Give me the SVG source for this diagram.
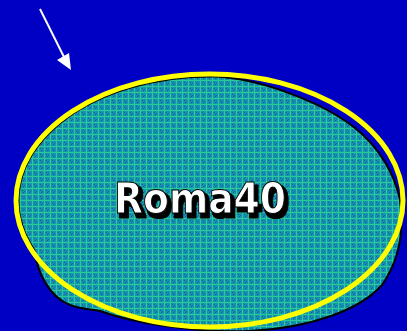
<svg xmlns="http://www.w3.org/2000/svg" width="407" height="331" viewBox="0 0 407 331">
<defs>
<pattern id="plaid" width="6" height="6" patternUnits="userSpaceOnUse">
<rect width="6" height="6" fill="#1396A8"/>
<rect x="0" y="2" width="6" height="1" fill="#2BC89C"/>
<rect x="2" y="0" width="1" height="6" fill="#2BC89C"/>
<rect x="4" y="4" width="1" height="1" fill="#1E4EC0"/>
<rect x="5" y="0" width="1" height="1" fill="#1E4EC0"/>
<rect x="0" y="5" width="1" height="1" fill="#2060C0"/>
</pattern>
<filter id="shadow" x="-10%" y="-30%" width="130%" height="170%">
<feMorphology in="SourceAlpha" operator="dilate" radius="1" result="fat"/>
<feOffset in="fat" dx="3" dy="4" result="off"/>
<feFlood flood-color="#000000"/>
<feComposite in2="off" operator="in" result="sh"/>
<feMerge><feMergeNode in="sh"/><feMergeNode in="SourceGraphic"/></feMerge>
</filter>
<style>
.lbl{font-family:"DejaVu Sans","Liberation Sans",sans-serif;font-weight:bold;font-size:42px}
</style>
</defs>
<rect width="407" height="331" fill="#0000C4"/>
<g id="blob">
<path d="M34.3,250 A191 124 0 0 1 215,76.6 C255,78 320,100 355,128 C380,148 395,175 400,200 C405,235 398,262 382,285 C360,310 310,328 250,331 C190,333 130,322 100,311 C90,309 80,309 70,305 C50,297 38,275 34.3,250 Z" fill="url(#plaid)" stroke="#000000" stroke-width="2"/>
</g>
<g id="ring">
<ellipse cx="209.5" cy="200.5" rx="193.5" ry="126.5" fill="none" stroke="#FFFF00" stroke-width="5"/>
</g>
<g id="label" filter="url(#shadow)">
<text class="lbl" x="200" y="213" text-anchor="middle" textLength="172" lengthAdjust="spacingAndGlyphs" fill="#FFFFFF" stroke="#000000" stroke-width="1">Roma40</text>
</g>
<g id="connectors">
<line x1="40" y1="9" x2="64" y2="57" stroke="#FFFFFF" stroke-width="2"/>
<polygon points="57,60 69,53 71,70" fill="#FFFFFF"/>
</g>
</svg>
